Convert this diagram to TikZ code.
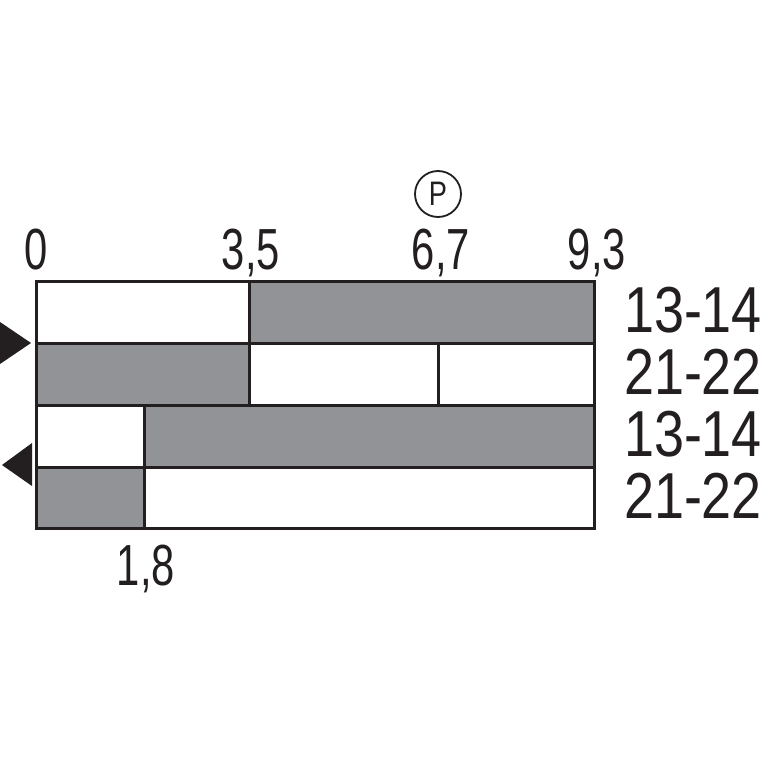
\documentclass[tikz,border=0pt]{standalone}
\usepackage{fontspec}
\setmainfont{Liberation Sans}
\definecolor{cellgray}{HTML}{929396}
\definecolor{inkc}{HTML}{231F20}
\begin{document}
\begin{tikzpicture}[x=1pt,y=-1pt,
  frame/.style={draw=inkc,line width=3pt},
  grayfill/.style={fill=cellgray},
  toplab/.style={anchor=base,inner sep=0pt,text=inkc,font=\fontsize{58}{60}\selectfont},
  sidelab/.style={anchor=base,inner sep=0pt,text=inkc,font=\fontsize{65}{66}\selectfont},
  marker/.style={fill=inkc,draw=none}]
\useasboundingbox (0,0) rectangle (767,767);
\fill[white] (0,0) rectangle (767,767);
% gray cells
\fill[grayfill] (249,281) rectangle (594,343);
\fill[grayfill] (36,343) rectangle (249,405);
\fill[grayfill] (144,405) rectangle (594,467);
\fill[grayfill] (36,467) rectangle (144,528);
% grid
\draw[frame] (36,281) rectangle (594,528);
\draw[frame] (36,343) -- (594,343);
\draw[frame] (36,405) -- (594,405);
\draw[frame] (36,467) -- (594,467);
\draw[frame] (249,281) -- (249,405);
\draw[frame] (438,343) -- (438,405);
\draw[frame] (144,405) -- (144,528);
% markers
\fill[marker] (0,322) -- (31,343) -- (0,364) -- cycle;
\fill[marker] (32,443) -- (2,465) -- (32,486) -- cycle;
% top labels
\node[toplab] (l0) at (36,269) {\scalebox{0.72}[1]{0}};
\node[toplab] (l35) at (251,269) {\scalebox{0.72}[1]{3,5}};
\node[toplab] (l67) at (441,269) {\scalebox{0.72}[1]{6,7}};
\node[toplab] (l93) at (597,269) {\scalebox{0.72}[1]{9,3}};
\node[toplab] (l18) at (146,585) {\scalebox{0.72}[1]{1,8}};
% P symbol
\draw[draw=inkc,line width=1.8pt] (438,194) circle (23);
\node[anchor=base,inner sep=0pt,text=inkc,font=\fontsize{34}{36}\selectfont] (pl) at (438,206) {\scalebox{0.8}[1]{P}};
% side labels
\node[sidelab] (s1) at (693,332) {\scalebox{0.83}[1]{13-14}};
\node[sidelab] (s2) at (693,394) {\scalebox{0.83}[1]{21-22}};
\node[sidelab] (s3) at (693,456) {\scalebox{0.83}[1]{13-14}};
\node[sidelab] (s4) at (693,518) {\scalebox{0.83}[1]{21-22}};
\end{tikzpicture}
\end{document}
